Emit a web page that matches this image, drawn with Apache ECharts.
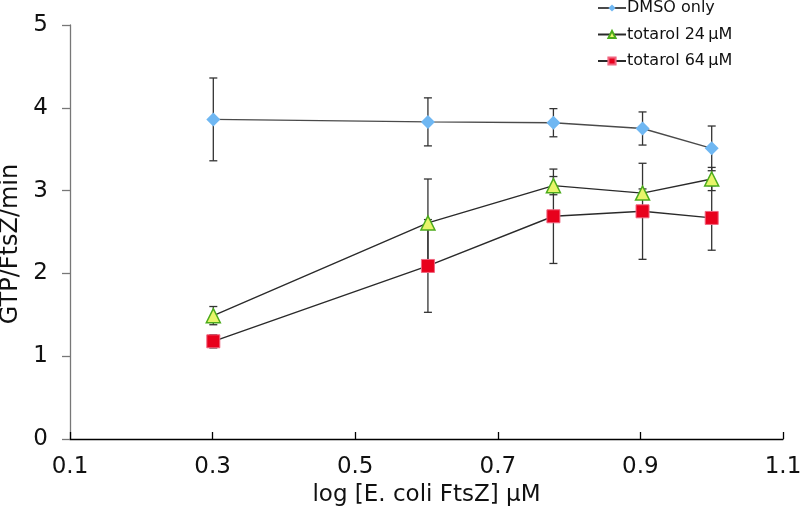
<!DOCTYPE html>
<html>
<head>
<meta charset="utf-8">
<script src="https://cdn.jsdelivr.net/npm/echarts@6/dist/echarts.min.js"></script>
<style>html,body{margin:0;padding:0;background:#fff}#c{width:800px;height:508px}</style>
</head>
<body>
<div id="c"></div>
<script>
const xVals = [0.301, 0.602, 0.778, 0.903, 1.0];
const dmso = [3.86, 3.83, 3.82, 3.75, 3.51];
const dmsoErr = [0.5, 0.29, 0.17, 0.2, 0.27];
const t24 = [1.49, 2.61, 3.06, 2.97, 3.14];
const t24Err = [0.11, 0.53, 0.11, 0.05, 0.14];
const t64 = [1.18, 2.09, 2.69, 2.75, 2.67];
const t64Err = [0.08, 0.56, 0.57, 0.58, 0.39];
const xTicks = [0.1, 0.3, 0.5, 0.7, 0.9, 1.1];
const names = ['DMSO only', 'totarol 24\u2009\u03bcM', 'totarol 64\u2009\u03bcM'];

const FONT = 'DejaVu Sans, Verdana, sans-serif';

function pts(ys) { return xVals.map((x, i) => [x, ys[i]]); }
function errData(ys, es) { return xVals.map((x, i) => [x, ys[i] - es[i], ys[i] + es[i]]); }

function errSeries(ys, es) {
  return {
    type: 'custom',
    silent: true,
    z: 1,
    data: errData(ys, es),
    renderItem: function (params, api) {
      const lo = api.coord([api.value(0), api.value(1)]);
      const hi = api.coord([api.value(0), api.value(2)]);
      const w = 4;
      const st = { stroke: '#333', lineWidth: 1.3 };
      return {
        type: 'group',
        children: [
          { type: 'line', shape: { x1: lo[0], y1: lo[1], x2: hi[0], y2: hi[1] }, style: st },
          { type: 'line', shape: { x1: lo[0] - w, y1: lo[1], x2: lo[0] + w, y2: lo[1] }, style: st },
          { type: 'line', shape: { x1: hi[0] - w, y1: hi[1], x2: hi[0] + w, y2: hi[1] }, style: st }
        ]
      };
    }
  };
}

const chart = echarts.init(document.getElementById('c'), null, { renderer: 'canvas' });
chart.setOption({
  animation: false,
  backgroundColor: '#fff',
  textStyle: { fontFamily: FONT },
  grid: { left: 70, right: 17, top: 25, bottom: 69, containLabel: false, outerBoundsMode: 'none' },
  legend: {
    orient: 'vertical',
    left: 592,
    top: 0,
    padding: [0, 5, 5, 5],
    itemWidth: 28,
    itemHeight: 9,
    itemGap: 10.5,
    textStyle: { fontFamily: FONT, fontSize: 16, color: '#111', padding: [0, 0, 0, -4] },
    data: names
  },
  xAxis: {
    type: 'value',
    min: 0.1, max: 1.1, interval: 0.2,
    name: 'log [E. coli FtsZ] \u03bcM',
    nameLocation: 'middle',
    nameGap: 42,
    nameTextStyle: { fontFamily: FONT, fontSize: 23, color: '#111' },
    axisLine: { lineStyle: { color: '#000', width: 1.3 } },
    axisTick: { inside: true, length: 7, lineStyle: { color: '#000', width: 1.3 } },
    axisLabel: {
      fontFamily: FONT, fontSize: 23, color: '#111', margin: 17,
      formatter: function (v) {
        const t = xTicks.find(k => Math.abs(k - v) < 1e-6);
        return t !== undefined ? t.toFixed(1) : '';
      }
    },
    splitLine: { show: false }
  },
  yAxis: {
    type: 'value',
    min: 0, max: 5, interval: 1,
    name: 'GTP/FtsZ/min',
    nameLocation: 'middle',
    nameGap: 42,
    nameTextStyle: { fontFamily: FONT, fontSize: 24, color: '#111', padding: [0, 24, 0, 0] },
    axisLine: { show: true, lineStyle: { color: '#777', width: 1.3 } },
    axisTick: { show: true, length: 8, lineStyle: { color: '#777', width: 1.3 } },
    axisLabel: { fontFamily: FONT, fontSize: 23, color: '#111', margin: 22 },
    splitLine: { show: false }
  },
  series: [
    errSeries(dmso, dmsoErr),
    errSeries(t24, t24Err),
    errSeries(t64, t64Err),
    {
      name: names[0], type: 'line', z: 3, data: pts(dmso),
      symbol: 'diamond', symbolSize: 14,
      lineStyle: { color: '#4a4a4a', width: 1.4 },
      itemStyle: { color: '#6fb7f2', borderColor: '#6fb7f2', borderWidth: 0 }
    },
    {
      name: names[1], type: 'line', z: 4, data: pts(t24),
      symbol: 'triangle', symbolSize: 14,
      lineStyle: { color: '#2a2a2a', width: 1.4 },
      itemStyle: { color: '#e8f56a', borderColor: '#4cab1c', borderWidth: 1.5 }
    },
    {
      name: names[2], type: 'line', z: 5, data: pts(t64),
      symbol: 'rect', symbolSize: 13,
      lineStyle: { color: '#2a2a2a', width: 1.4 },
      itemStyle: { color: '#e8001c', borderColor: '#f06680', borderWidth: 1 }
    }
  ]
});
</script>
</body>
</html>
